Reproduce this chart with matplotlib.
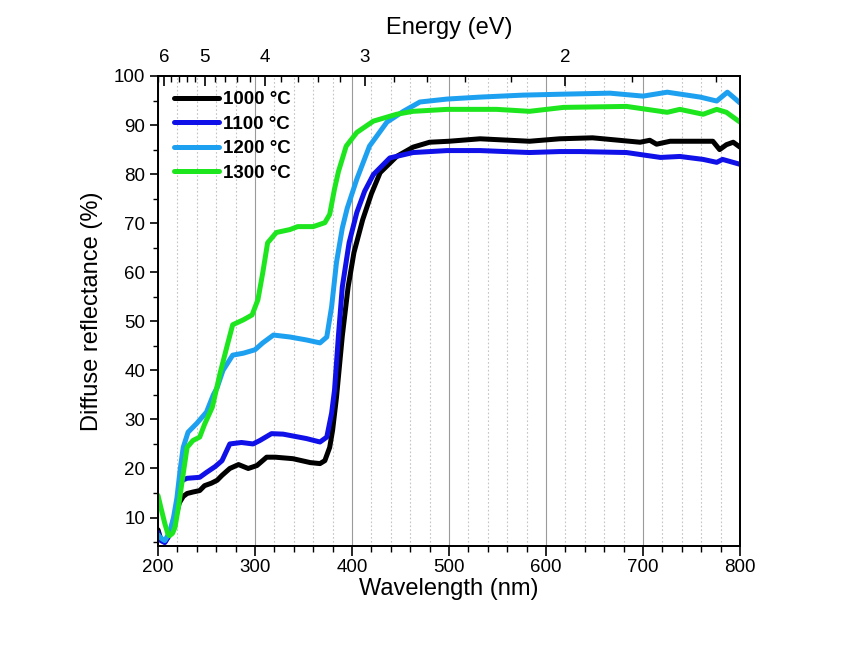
import numpy as np
import matplotlib
matplotlib.use("Agg")
import matplotlib.pyplot as plt
from matplotlib.ticker import MultipleLocator

plt.rcParams['font.family'] = ['Liberation Sans', 'DejaVu Sans']
plt.rcParams['axes.grid'] = False

# ---- data ----
wl_1000 = [200, 203, 207, 212, 218, 222, 226, 230, 236, 243, 248, 255, 261, 266, 274, 283, 293, 302,
           312, 321, 339, 357, 367, 372, 377, 380, 384, 390, 396, 402, 411, 420, 429, 446, 463, 480,
           500, 532, 583, 614, 648, 697, 707, 714, 728, 759, 772, 779, 786, 793, 800]
r_1000 = [7.5, 5.5, 5.0, 6.5, 10, 13, 14.3, 14.9, 15.2, 15.5, 16.5, 17, 17.6, 18.6, 20, 20.8, 20, 20.6,
          22.3, 22.3, 22, 21.2, 21, 21.6, 24.3, 27.8, 34.5, 47, 57, 64, 70.7, 76, 80.3, 83.6, 85.5, 86.5,
          86.7, 87.2, 86.7, 87.2, 87.4, 86.5, 86.9, 86.1, 86.7, 86.7, 86.7, 85, 86, 86.5, 85.5]

wl_1100 = [200, 203, 207, 212, 218, 222, 225, 230, 243, 250, 259, 266, 274, 286, 298, 305, 317, 329,
           353, 367, 374, 379, 382, 386, 390, 397, 405, 413, 422, 439, 463, 498, 532, 583, 614, 635,
           683, 697, 718, 738, 762, 776, 782, 800]
r_1100 = [7, 5.3, 4.9, 6.5, 11, 15.5, 17.6, 18, 18.2, 19.2, 20.4, 21.6, 25, 25.3, 25, 25.7, 27.1, 27,
          26.1, 25.4, 26.4, 31.3, 36, 47, 57, 66, 72.2, 76.5, 79.9, 83.3, 84.4, 84.8, 84.8, 84.4, 84.6, 84.6,
          84.4, 84, 83.4, 83.6, 83, 82.4, 83, 82]

wl_1200 = [200, 203, 207, 212, 216, 219.5, 223, 226, 231, 240, 250, 257, 261, 267, 277, 288, 300, 308,
           319, 336, 353, 367, 374, 379, 384, 390, 395, 405, 418, 436, 453, 470, 498, 532, 576, 618,
           666, 700, 725, 759, 776, 787, 793, 800]
r_1200 = [6.5, 5.8, 5.3, 7, 10, 14, 20, 24.3, 27.4, 29.2, 31.5, 35, 36.5, 40, 43.1, 43.5, 44.2, 45.6,
          47.2, 46.8, 46.2, 45.6, 46.8, 53, 62, 69, 73, 79, 85.7, 90.6, 92.8, 94.7, 95.3, 95.7, 96.1, 96.3,
          96.5, 95.9, 96.7, 95.7, 94.9, 96.7, 95.7, 94.5]

wl_1300 = [200, 203, 207, 210, 212, 215, 217.5, 221, 225, 230, 236, 243, 248, 256, 264, 271, 277, 288,
           297, 303, 308, 313, 322, 336, 344, 360, 372, 377, 382, 386, 394, 405, 422, 446, 463, 498,
           549, 583, 618, 683, 697, 725, 738, 762, 776, 786, 800]
r_1300 = [14.5, 12, 8.8, 6.8, 6.3, 6.8, 8, 12, 17.6, 24.3, 25.7, 26.4, 29, 32.5, 39.4, 44.8, 49.3, 50.3,
          51.3, 54.4, 59.9, 66, 68.1, 68.7, 69.3, 69.3, 70.1, 71.8, 77, 80.5, 85.7, 88.5, 90.8, 92.2, 92.8, 93.2,
          93.2, 92.8, 93.6, 93.8, 93.4, 92.6, 93.2, 92.2, 93.2, 92.6, 90.6]

labels = ['1000 °C', '1100 °C', '1200 °C', '1300 °C']
colors = ['#000000', '#1010e8', '#1ea0f0', '#1ee61e']

energy_major = [6, 5, 4, 3, 2]
energy_minor = [6.2, 5.8, 5.6, 5.4, 5.2, 4.8, 4.6, 4.4, 4.2, 3.8, 3.6, 3.4, 3.2,
                2.8, 2.6, 2.4, 2.2, 1.8, 1.6]
HC = 1240.0  # eV*nm

# ---- figure ----
fig = plt.figure(figsize=(8.45, 6.5), dpi=100)
ax = fig.add_axes([158/845, 1-546/650, (740-158)/845, (546-76)/650])

series = [(wl_1000, r_1000), (wl_1100, r_1100), (wl_1200, r_1200), (wl_1300, r_1300)]
for (w, r), lab, c in zip(series, labels, colors):
    ax.plot(w, r, color=c, lw=3.6, label=lab, solid_joinstyle='round', solid_capstyle='round')

ax.set_xlim(200, 800)
ax.set_ylim(4.2, 100)

ax.xaxis.set_major_locator(MultipleLocator(100))
ax.xaxis.set_minor_locator(MultipleLocator(20))
ax.yaxis.set_minor_locator(MultipleLocator(5))
ax.set_yticks([10, 20, 30, 40, 50, 60, 70, 80, 90, 100])

ax.xaxis.grid(True, which='major', color='#9a9a9a', lw=0.8, ls='-')
ax.xaxis.grid(True, which='minor', color='#c4c4c4', lw=0.8, ls=(0, (1.5, 2)))
ax.set_axisbelow(True)

ax.tick_params(axis='x', which='major', direction='out', length=7, width=1.2, labelsize=13.5, pad=2)
ax.tick_params(axis='x', which='minor', direction='out', length=4, width=1.0)
ax.tick_params(axis='y', which='major', direction='out', length=6, width=1.2, labelsize=13.5, pad=3)
ax.tick_params(axis='y', which='minor', direction='out', length=3.5, width=1.0)
ax.tick_params(right=False, top=False, which='both')

for s in ax.spines.values():
    s.set_linewidth(1.3)

ax.set_xlabel('Wavelength (nm)', fontsize=17, labelpad=2)
ax.set_ylabel('Diffuse reflectance (%)', fontsize=17, labelpad=8)

# top energy axis
top = ax.twiny()
top.set_xlim(ax.get_xlim())
top.set_xticks([HC / e for e in energy_major])
top.set_xticklabels([str(e) for e in energy_major])
top.set_xticks([HC / e for e in energy_minor], minor=True)
top.xaxis.grid(False, which='both')
top.tick_params(axis='x', which='major', direction='in', length=7, width=1.2, labelsize=13.5, pad=7)
top.tick_params(axis='x', which='minor', direction='in', length=4, width=1.0)
top.tick_params(axis='y', left=False, right=False, labelleft=False, labelright=False)
top.set_xlabel('Energy (eV)', fontsize=17, labelpad=11)
for s in top.spines.values():
    s.set_linewidth(1.3)

leg = ax.legend(loc='upper left', bbox_to_anchor=(0.027, 0.968), frameon=False,
                prop={'weight': 'bold', 'size': 13.5}, handlelength=2.4, handletextpad=0.25,
                labelspacing=0.4, borderpad=0, borderaxespad=0)

fig.savefig('out.png', dpi=100)
